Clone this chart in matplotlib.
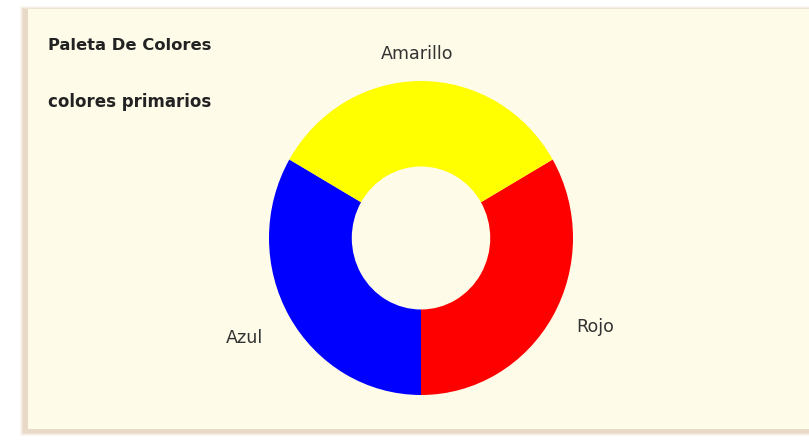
import matplotlib.pyplot as plt
from matplotlib.patches import Rectangle

# datos del grafico
nombres = ['Rojo', 'Azul', 'Amarillo']
valores = [1, 1, 1]
colores = ['#FF0000', '#0000FF', '#FFFF00']
titulo = 'Paleta De Colores'
subtitulo = 'colores primarios'

W, H = 809, 446
fig = plt.figure(figsize=(W / 100, H / 100), dpi=100)
fig.patch.set_facecolor('white')
plt.rcParams['font.family'] = ['DejaVu Sans']

# panel con sombra (coordenadas en pixeles)
bg = fig.add_axes([0, 0, 1, 1])
bg.set_xlim(0, W)
bg.set_ylim(H, 0)
bg.axis('off')
for i, a in enumerate([0.08, 0.10, 0.12, 0.14]):
    bg.add_patch(Rectangle((20 + i, 6 + i), 800, 433 - 6 - 2 * i + 3, facecolor='#c8a070',
                           alpha=a, edgecolor='none'))
bg.add_patch(Rectangle((28, 9), 800, 420, facecolor='#FEFCE9', edgecolor='none'))

# la dona es un poco mas alta que ancha en la referencia
cx, cy, r = 421, 238, 157
kx = 157 / 152
ax = fig.add_axes([0, 0, 1, 1])
ax.patch.set_alpha(0)
wedges, _ = ax.pie(valores, colors=colores, startangle=30, counterclock=False,
                   center=(0, 0), radius=r,
                   wedgeprops=dict(width=r - 71.5, edgecolor='none'))
ax.set_aspect('auto')
ax.set_xlim(-cx * kx, (W - cx) * kx)
ax.set_ylim(-(H - cy), cy)
ax.axis('off')

# etiquetas
pos = {'Amarillo': (417, 54, 'center'), 'Rojo': (576, 327, 'left'), 'Azul': (263, 338, 'right')}
for n in nombres:
    x, y, ha = pos[n]
    bg.text(x, y, n, ha=ha, va='center', fontsize=12.6, color='#333333', zorder=3)

bg.text(48, 45, titulo, ha='left', va='center', fontsize=11.8, fontweight='bold',
        color='#222222', zorder=3)
bg.text(48, 102, subtitulo, ha='left', va='center', fontsize=12, fontweight='bold',
        color='#222222', zorder=3)

plt.savefig('out.png', dpi=100)
